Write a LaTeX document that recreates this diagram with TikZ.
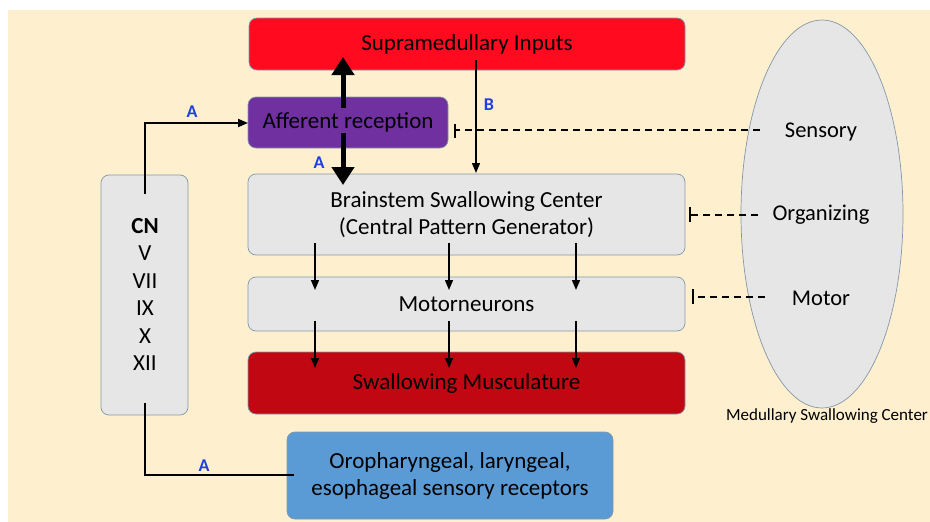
\documentclass[tikz,border=0pt]{standalone}
\usepackage{fontspec}
\setmainfont{Carlito}
\usetikzlibrary{arrows.meta,shapes.geometric}
\definecolor{cream}{HTML}{FEF0CF}
\definecolor{supred}{HTML}{FF0A1E}
\definecolor{musred}{HTML}{C10812}
\definecolor{purp}{HTML}{7030A0}
\definecolor{bluebox}{HTML}{5B9BD5}
\definecolor{greybox}{HTML}{E6E6E6}
\definecolor{edge}{HTML}{8497A8}
\definecolor{labblue}{HTML}{1F3FE0}
\tikzset{
  box/.style={draw=edge, line width=0.7pt, rounded corners=8pt, inner sep=0pt, align=center, font=\fontsize{23}{27}\selectfont},
  lab/.style={text=labblue, font=\bfseries\fontsize{18}{20}\selectfont},
  arr/.style={-{Triangle[length=10pt,width=8pt]}, line width=1.4pt},
  thick arr/.style={-{Triangle[length=18pt,width=22pt]}, line width=5pt},
  inhib/.style={dashed, dash pattern=on 7pt off 5pt, line width=1.2pt},
  bar/.style={line width=1.4pt},
  side/.style={font=\fontsize{22.5}{26}\selectfont},
  cn/.style={font=\fontsize{23}{26}\selectfont}
}
\begin{document}
\begin{tikzpicture}[x=1pt,y=-1pt]
\useasboundingbox (0,0) rectangle (930,522);
\fill[white] (0,0) rectangle (930,522);
\fill[cream] (8,10) rectangle (930,522);
% ellipse
\node[draw=edge, fill=greybox, line width=0.7pt, ellipse, minimum width=162pt, minimum height=388pt, inner sep=0pt] (msc) at (822,214) {};
\node[side] (sens) at (821,132) {Sensory};
\node[side] (org) at (821,215) {Organizing};
\node[side] (mot) at (821,298) {Motor};
\node[font=\fontsize{17}{19}\selectfont] (msclab) at (827,416) {Medullary Swallowing Center};
% boxes
\node[box, fill=supred, minimum width=436pt, minimum height=52pt] (sup) at (467,44) {Supramedullary Inputs};
\node[box, fill=purp, minimum width=200pt, minimum height=51pt] (aff) at (348,122.5) {Afferent reception};
\node[box, fill=greybox, minimum width=437pt, minimum height=81pt] (bsc) at (466.5,214.5) {Brainstem Swallowing Center\\(Central Pattern Generator)};
\node[box, fill=greybox, minimum width=437pt, minimum height=54pt] (mn) at (466.5,304) {Motorneurons};
\node[box, fill=musred, minimum width=437pt, minimum height=62pt] (mus) at (466.5,383) {Swallowing Musculature};
\node[box, fill=bluebox, minimum width=326pt, minimum height=87pt] (oro) at (450,475.5) {Oropharyngeal, laryngeal,\\esophageal sensory receptors};
\node[box, fill=greybox, minimum width=87pt, minimum height=240pt] (cnb) at (144.5,295) {};
\node[cn, font=\bfseries\fontsize{23}{26}\selectfont] (cn0) at (145,226) {CN};
\node[cn] (cn1) at (145,253.5) {V};
\node[cn] (cn2) at (145,281) {VII};
\node[cn] (cn3) at (145,308.5) {IX};
\node[cn] (cn4) at (145,336) {X};
\node[cn] (cn5) at (145,363.5) {XII};
% coordinates
\coordinate (cntop) at (145,194);
\coordinate (cnbot) at (145,403);
\coordinate (c1) at (145,123);
\coordinate (c2) at (145,475);
\coordinate (affin) at (248,123);
\coordinate (oroin) at (294,475);
% CN connections
\draw[arr, line width=1.8pt] (cntop) -- (c1) -- (affin);
\draw[line width=1.8pt] (cnbot) -- (c2) -- (oroin);
\node[lab] (la1) at (192,112) {A};
\node[lab] (la2) at (204,466) {A};
% thick arrows
\coordinate (tu0) at (343,108);
\coordinate (tu1) at (343,57);
\coordinate (td0) at (343,133);
\coordinate (td1) at (343,185);
\draw[thick arr] (tu0) -- (tu1);
\draw[thick arr] (td0) -- (td1);
\node[lab] (la3) at (319,163) {A};
% B arrow
\coordinate (b0) at (476,60);
\coordinate (b1) at (476,173);
\draw[arr] (b0) -- (b1);
\node[lab] (lb) at (489,105) {B};
% dashed inhibitory
\coordinate (s0) at (455,130);
\coordinate (s1) at (760,130);
\draw[inhib] (s1) -- (s0);
\draw[bar] (455,124) -- (455,138);
\coordinate (o0) at (690,215);
\coordinate (o1) at (758,215);
\draw[inhib] (o1) -- (o0);
\draw[bar] (690,207) -- (690,222);
\coordinate (m0) at (693,297);
\coordinate (m1) at (765,297);
\draw[inhib] (m1) -- (m0);
\draw[bar] (693,289) -- (693,304);
% vertical arrows
\foreach \x in {315,449,576}{
  \draw[arr] (\x,243) -- (\x,290);
  \draw[arr] (\x,321) -- (\x,368);
}
\end{tikzpicture}
\end{document}
